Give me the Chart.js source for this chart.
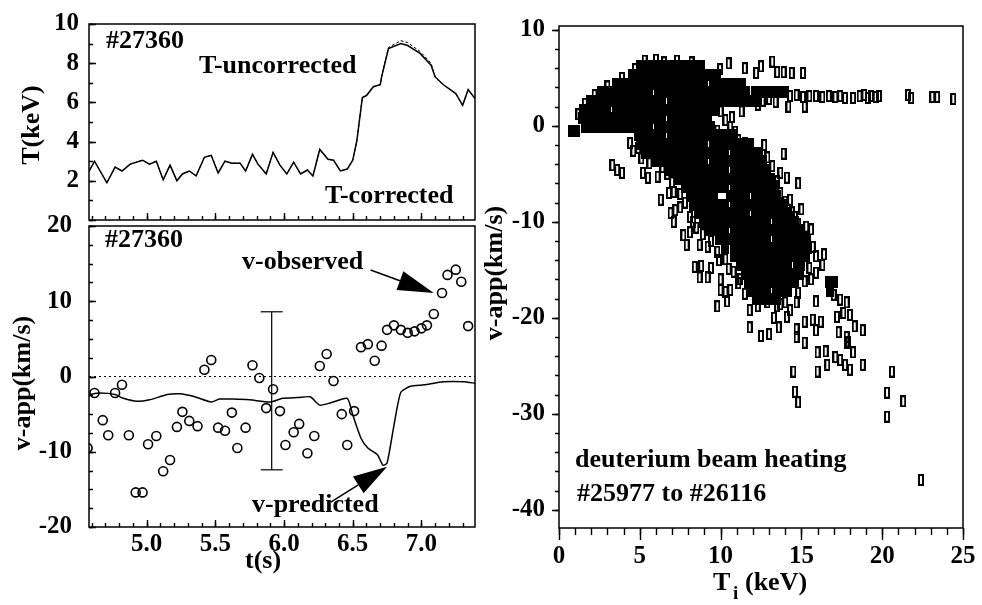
<!DOCTYPE html>
<html>
<head>
<meta charset="utf-8">
<title>Apparent velocity vs time and ion temperature</title>
<script src="https://cdn.jsdelivr.net/npm/chart.js@4.4.1/dist/chart.umd.min.js"></script>
<style>
  html, body { margin: 0; padding: 0; background: #fff; }
  #wrap { position: relative; width: 982px; height: 605px; }
  #wrap canvas { position: absolute; left: 0; top: 0; }
</style>
</head>
<body>
<div id="wrap">
  <canvas id="temp-chart" width="982" height="605"></canvas>
  <canvas id="vel-chart" width="982" height="605"></canvas>
  <canvas id="beam-chart" width="982" height="605"></canvas>
</div>
<script>
// ---- Shot #27360: temperature trace (keV) ----
const tempTime = [4.57, 4.62, 4.71, 4.77, 4.82, 4.88, 4.97, 5.02, 5.07, 5.12, 5.17, 5.22, 5.26, 5.31, 5.36, 5.42, 5.47, 5.52, 5.57, 5.62, 5.68, 5.72, 5.77, 5.81, 5.87, 5.92, 5.97, 6.02, 6.07, 6.12, 6.17, 6.21, 6.26, 6.32, 6.36, 6.41, 6.46, 6.50, 6.53, 6.57, 6.60, 6.65, 6.70, 6.71, 6.76, 6.85, 6.90, 6.99, 7.07, 7.10, 7.16, 7.25, 7.30, 7.34, 7.39];
const tempCorrected = [2.35, 3.0, 1.9, 2.7, 2.5, 2.85, 3.05, 2.85, 3.0, 2.05, 2.8, 2.0, 2.35, 2.5, 2.25, 3.2, 3.3, 2.4, 3.0, 2.9, 2.9, 2.5, 3.35, 2.85, 2.35, 3.45, 2.8, 2.35, 2.95, 2.35, 2.55, 2.25, 3.6, 3.1, 3.05, 2.5, 2.6, 3.05, 4.05, 6.25, 6.35, 6.8, 6.9, 7.3, 8.75, 9.0, 8.9, 8.5, 7.9, 7.3, 6.9, 6.45, 5.85, 6.65, 6.2];
const tempUncorrected = [2.35, 3.0, 1.9, 2.7, 2.5, 2.85, 3.05, 2.85, 3.0, 2.05, 2.8, 2.0, 2.35, 2.5, 2.25, 3.2, 3.3, 2.4, 3.0, 2.9, 2.9, 2.5, 3.35, 2.85, 2.35, 3.45, 2.8, 2.35, 2.95, 2.35, 2.55, 2.25, 3.6, 3.1, 3.05, 2.5, 2.6, 3.05, 4.05, 6.25, 6.35, 6.8, 6.9, 7.3, 8.8, 9.15, 9.05, 8.6, 8.0, 7.3, 6.9, 6.45, 5.85, 6.65, 6.2];

// ---- Shot #27360: apparent velocity (km/s) ----
const predTime = [4.58, 4.66, 4.77, 4.83, 4.93, 5.02, 5.15, 5.24, 5.35, 5.47, 5.53, 5.63, 5.75, 5.90, 5.99, 6.10, 6.19, 6.26, 6.34, 6.46, 6.50, 6.56, 6.61, 6.68, 6.72, 6.75, 6.80, 6.85, 6.92, 7.02, 7.16, 7.31, 7.39];
const predVel = [-2.4, -2.2, -2.4, -2.9, -3.3, -3.1, -2.4, -2.3, -2.7, -3.4, -3.0, -3.0, -3.1, -3.4, -2.9, -2.8, -2.7, -3.8, -3.5, -2.9, -5.1, -8.2, -9.5, -10.4, -11.8, -11.5, -6.5, -2.1, -1.3, -1.1, -0.7, -0.7, -0.9];
const obsTime = [4.57, 4.62, 4.68, 4.72, 4.77, 4.82, 4.87, 4.92, 4.97, 5.01, 5.07, 5.12, 5.17, 5.22, 5.26, 5.31, 5.37, 5.42, 5.47, 5.52, 5.57, 5.62, 5.66, 5.72, 5.77, 5.82, 5.87, 5.92, 5.97, 6.01, 6.07, 6.11, 6.17, 6.22, 6.26, 6.31, 6.36, 6.42, 6.46, 6.51, 6.56, 6.61, 6.66, 6.71, 6.75, 6.80, 6.85, 6.90, 6.95, 7.00, 7.04, 7.09, 7.15, 7.19, 7.25, 7.29, 7.34];
const obsVel = [-9.5, -2.2, -5.8, -7.8, -2.2, -1.1, -7.8, -15.4, -15.4, -9.0, -7.9, -12.6, -11.1, -6.7, -4.7, -5.9, -6.6, 0.9, 2.2, -6.8, -7.2, -4.8, -9.5, -6.8, 1.5, -0.2, -4.2, -1.7, -4.6, -9.1, -7.4, -6.3, -10.2, -7.9, 1.4, 3.0, -0.6, -5.0, -9.1, -4.6, 3.9, 4.3, 2.1, 4.1, 6.2, 6.8, 6.2, 5.8, 6.0, 6.4, 6.8, 8.3, 11.1, 13.5, 14.2, 12.6, 6.7];
const errTime = [5.91, 5.91];
const errVel = [8.6, -12.4];

// ---- Deuterium beam heating, shots #25977 to #26116: [Ti keV, v km/s] ----
// dense core, one row per velocity level
const beamCoreRows = [
  [6.2, [5.0, 5.5, 6.0, 6.5, 7.0, 7.5, 8.0, 8.4, 8.8]],
  [5.3, [4.5, 5.0, 5.5, 6.0, 6.5, 7.0, 7.5, 8.0, 8.5, 9.0, 9.4, 9.8]],
  [4.4, [3.5, 4.0, 4.5, 5.0, 5.5, 6.0, 6.5, 7.0, 7.5, 8.0, 8.5, 9.0, 9.5, 10.0, 10.5, 10.9, 11.3]],
  [3.5, [2.6, 3.1, 3.6, 4.1, 4.6, 5.1, 5.6, 6.1, 6.6, 7.1, 7.6, 8.1, 8.6, 9.1, 9.6, 10.1, 10.6, 11.1, 11.6, 12.1, 12.6, 13.1, 13.6, 14.0]],
  [2.6, [1.9, 2.4, 2.9, 3.4, 3.9, 4.4, 4.9, 5.4, 5.9, 6.4, 6.9, 7.4, 7.9, 8.4, 8.9, 9.4, 9.9, 10.4, 10.9, 11.4, 11.9, 12.3]],
  [1.7, [1.5, 2.0, 2.5, 3.0, 3.5, 4.0, 4.5, 5.0, 5.5, 6.0, 6.5, 7.0, 7.5, 8.0, 8.5, 9.0, 9.4, 9.7]],
  [0.8, [1.4, 1.9, 2.4, 2.9, 3.4, 3.9, 4.4, 4.9, 5.4, 5.9, 6.4, 6.9, 7.4, 7.9, 8.4, 8.8, 9.2]],
  [-0.1, [1.6, 2.1, 2.6, 3.1, 3.6, 4.1, 4.6, 5.1, 5.6, 6.1, 6.6, 7.1, 7.6, 8.1, 8.6, 9.0, 9.4]],
  [-1.0, [4.9, 5.4, 5.9, 6.4, 6.9, 7.4, 7.9, 8.4, 8.9, 9.4, 9.9, 10.4, 10.8]],
  [-1.9, [5.0, 5.5, 6.0, 6.5, 7.0, 7.5, 8.0, 8.5, 9.0, 9.5, 10.0, 10.5, 11.0, 11.4, 11.8]],
  [-2.8, [5.3, 5.8, 6.3, 6.8, 7.3, 7.8, 8.3, 8.8, 9.3, 9.8, 10.3, 10.8, 11.3, 11.8, 12.2, 12.4]],
  [-3.7, [6.0, 6.5, 7.0, 7.5, 8.0, 8.5, 9.0, 9.5, 10.0, 10.5, 11.0, 11.5, 12.0, 12.3, 12.6]],
  [-4.6, [6.8, 7.3, 7.8, 8.3, 8.8, 9.3, 9.8, 10.3, 10.8, 11.3, 11.8, 12.3, 12.6, 12.9]],
  [-5.5, [7.4, 7.9, 8.4, 8.9, 9.4, 9.9, 10.4, 10.9, 11.4, 11.9, 12.4, 12.8, 13.1]],
  [-6.4, [7.8, 8.3, 8.8, 9.3, 9.8, 10.3, 10.8, 11.3, 11.8, 12.3, 12.8, 13.1, 13.3]],
  [-7.3, [8.1, 8.6, 9.1, 9.6, 10.6, 11.1, 11.6, 12.1, 12.6, 13.1, 13.5]],
  [-8.2, [8.3, 8.8, 9.3, 9.8, 10.3, 10.8, 11.3, 11.8, 12.3, 12.8, 13.3, 13.6, 13.9]],
  [-9.1, [8.6, 9.1, 9.6, 10.1, 10.6, 11.1, 11.6, 12.1, 12.6, 13.1, 13.6, 13.9, 14.2]],
  [-10.0, [8.9, 9.4, 9.9, 10.4, 10.9, 11.4, 11.9, 12.4, 12.9, 13.4, 13.9, 14.3, 14.6]],
  [-10.9, [9.3, 9.8, 10.3, 10.8, 11.3, 11.8, 12.3, 12.8, 13.3, 13.8, 14.3, 14.7, 15.0]],
  [-11.8, [9.9, 10.4, 10.9, 11.4, 11.9, 12.4, 12.9, 13.4, 13.9, 14.4, 14.9, 15.3]],
  [-12.7, [10.3, 10.8, 11.3, 11.8, 12.3, 12.8, 13.3, 13.8, 14.3, 14.8, 15.1, 15.4]],
  [-13.6, [10.8, 11.3, 11.8, 12.3, 12.8, 13.3, 13.8, 14.3, 14.8, 15.1, 15.3]],
  [-14.5, [11.2, 11.7, 12.2, 12.7, 13.2, 13.7, 14.2, 14.7, 15.0]],
  [-15.4, [11.5, 12.0, 12.5, 13.0, 13.5, 14.0, 14.5, 14.9]],
  [-16.3, [11.7, 12.2, 12.7, 13.2, 13.7, 14.2, 14.6, 16.7, 17.0]],
  [-17.2, [11.9, 12.4, 12.9, 13.4, 13.8, 14.2, 16.8]],
  [-18.0, [12.2, 12.7, 13.1, 13.5]]
];
// isolated points, and the ragged points along the edge of the dense core
const beamSparse = [
  [6.5, 6.6], [8.2, 6.6], [7.6, 6.2], [9.97, 5.9], [10.5, 6.5], [11.5, 6.0], [12.2, 5.5], [12.5, 6.2], [13.2, 6.7], [13.5, 5.6], [13.9, 5.6], [14.4, 5.5], [15.1, 5.5],
  [14.3, 3.1], [14.7, 3.2], [15.1, 3.0], [15.5, 3.1], [15.9, 3.1], [16.3, 3.0], [16.7, 3.1], [17.1, 3.0], [17.4, 3.1], [17.7, 2.9], [18.2, 2.9], [18.6, 3.1], [18.9, 3.2], [19.1, 2.9], [19.3, 3.1], [19.6, 3.0], [19.8, 3.1], [21.6, 3.2], [21.8, 2.9], [23.1, 3.0], [23.4, 3.0], [24.4, 2.8],
  [12.6, 2.6], [13.0, 2.8], [13.4, 2.5], [14.2, 2.0], [15.2, 2.0], [12.3, 2.2], [10.0, 1.5], [10.3, 0.6], [10.7, 0.9], [11.3, 1.5], [10.6, -0.1], [9.8, -0.5], [10.9, -0.6], [11.1, -1.5], [11.5, -1.8],
  [13.9, -2.9], [13.7, -4.9], [14.1, -5.4], [14.8, -6.0], [13.4, -6.3], [14.3, -7.7], [15.0, -8.7], [14.6, -9.5], [15.6, -10.8], [15.4, -11.9], [16.4, -13.4], [16.3, -14.5], [15.9, -15.3], [15.6, -16.0],
  [4.4, -1.8], [4.6, -2.6], [5.1, -3.4], [5.2, -4.9], [5.5, -5.4], [6.1, -5.3], [6.7, -5.0], [3.3, -4.1], [3.6, -4.6], [3.9, -4.9],
  [6.3, -7.7], [6.8, -7.0], [7.1, -6.9], [6.9, -9.1], [7.2, -8.8], [7.5, -8.5], [7.1, -10.0], [7.7, -11.4], [7.9, -12.4], [8.3, -10.0], [8.1, -11.1], [8.7, -12.4], [9.2, -12.6],
  [8.4, -14.7], [8.8, -14.6], [8.7, -15.8], [9.2, -15.8], [9.4, -14.8], [9.9, -14.0], [10.0, -16.0], [10.5, -14.9], [10.0, -17.1], [10.6, -17.1], [10.3, -17.3], [9.8, -18.8], [10.4, -18.3], [11.1, -16.4],
  [11.8, -19.2], [12.3, -18.8], [12.8, -17.9], [12.9, -18.4], [13.5, -18.8], [14.3, -19.2], [14.7, -18.4], [15.9, -18.3], [11.8, -21.0], [12.5, -21.9], [13.0, -21.7], [13.3, -20.0], [13.6, -21.0], [13.7, -18.6],
  [14.1, -19.9], [14.7, -21.2], [14.7, -22.0], [15.2, -22.6], [15.2, -20.4], [15.7, -20.2], [16.2, -20.4], [15.9, -21.3], [14.5, -25.6], [14.6, -27.7], [14.8, -28.8], [16.0, -25.6], [16.0, -23.6], [16.5, -23.5],
  [16.6, -24.9], [17.1, -24.1], [17.4, -24.4], [17.7, -24.9], [18.0, -25.4], [17.8, -22.6], [18.2, -23.6], [18.8, -24.9], [16.8, -16.8], [17.2, -19.9], [17.3, -21.5], [17.6, -19.5], [18.0, -19.7],
  [18.3, -20.9], [18.8, -21.3], [17.8, -18.4], [17.4, -18.1], [17.0, -17.6], [17.8, -22.0], [17.9, -22.5], [20.6, -25.6], [20.3, -27.8], [21.3, -28.7], [20.3, -30.3], [22.4, -36.9],
  [4.9, -2.3], [5.6, -3.9], [6.4, -4.3], [7.0, -5.9], [7.5, -7.1], [7.8, -8.0], [8.1, -9.5], [8.5, -10.6], [8.9, -11.3], [9.4, -12.0], [9.8, -13.1], [10.3, -13.9], [10.8, -15.2], [11.2, -16.0], [11.5, -17.5],
  [12.7, -2.0], [12.9, -3.3], [13.2, -4.2], [13.5, -5.8], [13.7, -7.0], [14.0, -7.9], [14.4, -9.0], [14.8, -10.2], [15.3, -10.5], [15.7, -12.6], [15.9, -13.6], [15.5, -14.8], [15.2, -16.2], [14.8, -17.4], [14.0, -18.4],
  [1.2, 1.2], [1.6, 2.3], [2.2, 3.2], [3.0, 4.1], [3.9, 5.0], [4.7, 5.9], [5.3, 6.8], [6.0, 6.9], [7.3, 6.8]
];
const beamStart = [[0.93, -0.5]];

// axis ranges
const T_MIN = 4.58, T_MAX = 7.39;

// ---- helpers ----
function toXY(xs, ys) {
    return xs.map((x, i) => ({ x: x, y: ys[i] }));
}

// fix the size of an axis box and drop the extra room kept for its labels
function fixWidth(w) {
    return function(scale) {
        scale.width = w;
        scale.paddingTop = scale.paddingBottom = scale.paddingLeft = scale.paddingRight = 0;
    };
}

function fixHeight(h) {
    return function(scale) {
        scale.height = h;
        scale.paddingTop = scale.paddingBottom = scale.paddingLeft = scale.paddingRight = 0;
    };
}

// small canvas used as a marker
function makeMarker(w, h, filled) {
    const c = document.createElement('canvas');
    c.width = w;
    c.height = h;
    const g = c.getContext('2d');
    if (filled) {
        g.fillStyle = '#000';
        g.fillRect(0, 0, w, h);
    } else {
        g.strokeStyle = '#000';
        g.lineWidth = 2;
        g.strokeRect(1, 1, w - 2, h - 2);
    }
    return c;
}

// Frame round the plot area plus tick marks (len < 0 points up / left)
function frameTicks(marks) {
    return {
        id: 'frameTicks',
        afterDraw(chart) {
            const ctx = chart.ctx;
            const a = chart.chartArea;
            ctx.save();
            ctx.strokeStyle = '#000';
            ctx.lineWidth = 1.5;
            ctx.strokeRect(a.left, a.top, a.right - a.left, a.bottom - a.top);
            ctx.lineWidth = 1.4;
            marks.forEach(m => {
                const scale = chart.scales[m.axis];
                const n0 = Math.ceil(scale.min / m.step - 1e-6);
                const n1 = Math.floor(scale.max / m.step + 1e-6);
                ctx.beginPath();
                for (let k = n0; k <= n1; k++) {
                    const p = Math.round(scale.getPixelForValue(k * m.step)) + 0.5;
                    if (m.axis === 'x') {
                        ctx.moveTo(p, a.bottom);
                        ctx.lineTo(p, a.bottom + m.len);
                    } else {
                        ctx.moveTo(a.left, p);
                        ctx.lineTo(a.left + m.len, p);
                    }
                }
                ctx.stroke();
            });
            ctx.restore();
        }
    };
}

// Free text (labels, axis titles)
function textLayer(items) {
    return {
        id: 'textLayer',
        afterDraw(chart) {
            const ctx = chart.ctx;
            items.forEach(t => {
                ctx.save();
                ctx.font = 'bold ' + (t.size || 26) + 'px "Liberation Serif", serif';
                ctx.fillStyle = '#000';
                ctx.textAlign = t.align || 'left';
                ctx.textBaseline = t.baseline || 'alphabetic';
                ctx.translate(t.x, t.y);
                if (t.rotate) ctx.rotate(t.rotate * Math.PI / 180);
                ctx.fillText(t.text, 0, 0);
                ctx.restore();
            });
        }
    };
}

// Arrows pointing at the curves, given in data units
function arrowLayer(items) {
    return {
        id: 'arrowLayer',
        afterDatasetsDraw(chart) {
            const ctx = chart.ctx;
            const xs = chart.scales.x, ys = chart.scales.y;
            items.forEach(ar => {
                const x0 = xs.getPixelForValue(ar.from[0]), y0 = ys.getPixelForValue(ar.from[1]);
                const x1 = xs.getPixelForValue(ar.to[0]), y1 = ys.getPixelForValue(ar.to[1]);
                const ang = Math.atan2(y1 - y0, x1 - x0);
                const hw = ar.headWidth / 2;
                const bx = x1 - ar.headLength * Math.cos(ang);
                const by = y1 - ar.headLength * Math.sin(ang);
                ctx.save();
                ctx.strokeStyle = '#000';
                ctx.fillStyle = '#000';
                ctx.lineWidth = 1.5;
                ctx.beginPath();
                ctx.moveTo(x0, y0);
                ctx.lineTo(bx, by);
                ctx.stroke();
                ctx.beginPath();
                ctx.moveTo(x1, y1);
                ctx.lineTo(bx + hw * Math.sin(ang), by - hw * Math.cos(ang));
                ctx.lineTo(bx - hw * Math.sin(ang), by + hw * Math.cos(ang));
                ctx.closePath();
                ctx.fill();
                ctx.restore();
            });
        }
    };
}

// T with subscript i, under the right panel
const subscriptTitle = {
    id: 'subscriptTitle',
    afterDraw(chart) {
        const ctx = chart.ctx;
        ctx.save();
        ctx.fillStyle = '#000';
        ctx.textBaseline = 'alphabetic';
        ctx.font = 'bold 26px "Liberation Serif", serif';
        ctx.fillText('T', 713, 590);
        ctx.font = 'bold 19px "Liberation Serif", serif';
        ctx.fillText('i', 733, 599);
        ctx.font = 'bold 26px "Liberation Serif", serif';
        ctx.fillText('(keV)', 745, 590);
        ctx.restore();
    }
};

Chart.defaults.font.family = '"Liberation Serif", serif';
Chart.defaults.font.size = 25;
Chart.defaults.font.weight = 'bold';
Chart.defaults.color = '#000';

function hiddenGrid() {
    return { display: false, drawTicks: false };
}

function basePlugins() {
    return { legend: { display: false }, tooltip: { enabled: false } };
}

// ---- Top left: temperature ----
new Chart(document.getElementById('temp-chart'), {
    type: 'line',
    data: {
        datasets: [
            {
                label: 'T-corrected',
                data: toXY(tempTime, tempCorrected),
                borderColor: '#000',
                borderWidth: 1.5,
                pointRadius: 0,
                tension: 0
            },
            {
                label: 'T-uncorrected',
                data: toXY(tempTime, tempUncorrected),
                borderColor: '#000',
                borderWidth: 1,
                borderDash: [3, 2],
                pointRadius: 0,
                tension: 0
            }
        ]
    },
    options: {
        responsive: false,
        animation: false,
        layout: { padding: { left: 29, right: 507, top: 24, bottom: 385 } },
        scales: {
            x: { type: 'linear', min: T_MIN, max: T_MAX, display: false },
            y: {
                min: 0, max: 10,
                afterFit: fixWidth(60),
                grid: hiddenGrid(),
                border: { display: false },
                ticks: { stepSize: 2, padding: 10, callback: v => (v === 0 ? '' : String(v)) }
            }
        },
        plugins: basePlugins()
    },
    plugins: [
        frameTicks([
            { axis: 'x', step: 0.5, len: -7 },
            { axis: 'x', step: 0.1, len: -4 },
            { axis: 'y', step: 2, len: 7 },
            { axis: 'y', step: 1, len: 4 }
        ]),
        textLayer([
            { text: '#27360', x: 106, y: 48 },
            { text: 'T-uncorrected', x: 199, y: 73 },
            { text: 'T-corrected', x: 325, y: 203 },
            { text: 'T(keV)', x: 32, y: 125, rotate: -90, align: 'center', baseline: 'middle' }
        ])
    ]
});

// ---- Bottom left: observed vs predicted velocity ----
new Chart(document.getElementById('vel-chart'), {
    type: 'line',
    data: {
        datasets: [
            {
                label: 'v-observed',
                data: toXY(obsTime, obsVel),
                showLine: false,
                pointStyle: 'circle',
                pointRadius: 4.5,
                pointBorderWidth: 1.6,
                pointBorderColor: '#000',
                pointBackgroundColor: 'rgba(0,0,0,0)'
            },
            {
                label: 'v-predicted',
                data: toXY(predTime, predVel),
                borderColor: '#000',
                borderWidth: 1.5,
                pointRadius: 0,
                tension: 0.2
            },
            {
                label: 'error bar',
                data: toXY(errTime, errVel),
                borderColor: '#000',
                borderWidth: 1.2,
                pointStyle: 'line',
                pointRadius: 11,
                pointBorderWidth: 1.2,
                pointBorderColor: '#000'
            },
            {
                label: 'zero',
                data: toXY([T_MIN, T_MAX], [0, 0]),
                borderColor: '#000',
                borderWidth: 1,
                borderDash: [2, 3],
                pointRadius: 0
            }
        ]
    },
    options: {
        responsive: false,
        animation: false,
        layout: { padding: { left: 29, right: 507, top: 226, bottom: 0 } },
        scales: {
            x: {
                type: 'linear', min: T_MIN, max: T_MAX,
                afterFit: fixHeight(78),
                grid: hiddenGrid(),
                border: { display: false },
                ticks: { stepSize: 0.5, includeBounds: false, padding: 3, maxRotation: 0, callback: v => v.toFixed(1) }
            },
            y: {
                min: -20, max: 20,
                afterFit: fixWidth(60),
                grid: hiddenGrid(),
                border: { display: false },
                ticks: { stepSize: 10, padding: 17, callback: v => String(v) }
            }
        },
        plugins: basePlugins()
    },
    plugins: [
        frameTicks([
            { axis: 'x', step: 0.5, len: -7 },
            { axis: 'x', step: 0.1, len: -4 },
            { axis: 'y', step: 10, len: 7 },
            { axis: 'y', step: 2.5, len: 4 }
        ]),
        arrowLayer([
            { from: [6.63, 14.15], to: [7.09, 11.1], headLength: 36, headWidth: 20 },
            { from: [6.34, -16.7], to: [6.75, -12.0], headLength: 34, headWidth: 20 }
        ]),
        textLayer([
            { text: '#27360', x: 105, y: 247 },
            { text: 'v-observed', x: 242, y: 269 },
            { text: 'v-predicted', x: 252, y: 512 },
            { text: 't(s)', x: 245, y: 568 },
            { text: 'v-app(km/s)', x: 23, y: 383, rotate: -90, align: 'center', baseline: 'middle' }
        ])
    ]
});

// ---- Right: v-app vs Ti for the beam heated shots ----
const coreData = [];
beamCoreRows.forEach(row => {
    row[1].forEach(ti => coreData.push({ x: ti, y: row[0] }));
});

new Chart(document.getElementById('beam-chart'), {
    type: 'scatter',
    data: {
        datasets: [
            {
                label: 'isolated',
                data: beamSparse.map(p => ({ x: p[0], y: p[1] })),
                pointStyle: makeMarker(6, 12, false),
                pointRadius: 4
            },
            {
                label: 'dense',
                data: coreData,
                pointStyle: makeMarker(8, 12, true),
                pointRadius: 4
            },
            {
                label: 'start',
                data: beamStart.map(p => ({ x: p[0], y: p[1] })),
                pointStyle: makeMarker(12, 12, true),
                pointRadius: 6
            }
        ]
    },
    options: {
        responsive: false,
        animation: false,
        layout: { padding: { left: 499, right: 19, top: 26, bottom: 0 } },
        scales: {
            x: {
                type: 'linear', min: 0, max: 25,
                afterFit: fixHeight(77),
                grid: hiddenGrid(),
                border: { display: false },
                ticks: { stepSize: 5, padding: 14, maxRotation: 0, callback: v => String(v) }
            },
            y: {
                min: -41.9, max: 10.4,
                afterFit: fixWidth(60),
                grid: hiddenGrid(),
                border: { display: false },
                ticks: { stepSize: 10, includeBounds: false, padding: 14, callback: v => String(v) }
            }
        },
        plugins: basePlugins()
    },
    plugins: [
        frameTicks([
            { axis: 'x', step: 5, len: 12 },
            { axis: 'x', step: 1, len: 7 },
            { axis: 'y', step: 10, len: -7 },
            { axis: 'y', step: 2, len: -4 }
        ]),
        textLayer([
            { text: 'deuterium beam heating', x: 575, y: 467 },
            { text: '#25977 to #26116', x: 577, y: 501 },
            { text: 'v-app(km/s)', x: 495, y: 273, rotate: -90, align: 'center', baseline: 'middle' }
        ]),
        subscriptTitle
    ]
});
</script>
</body>
</html>
